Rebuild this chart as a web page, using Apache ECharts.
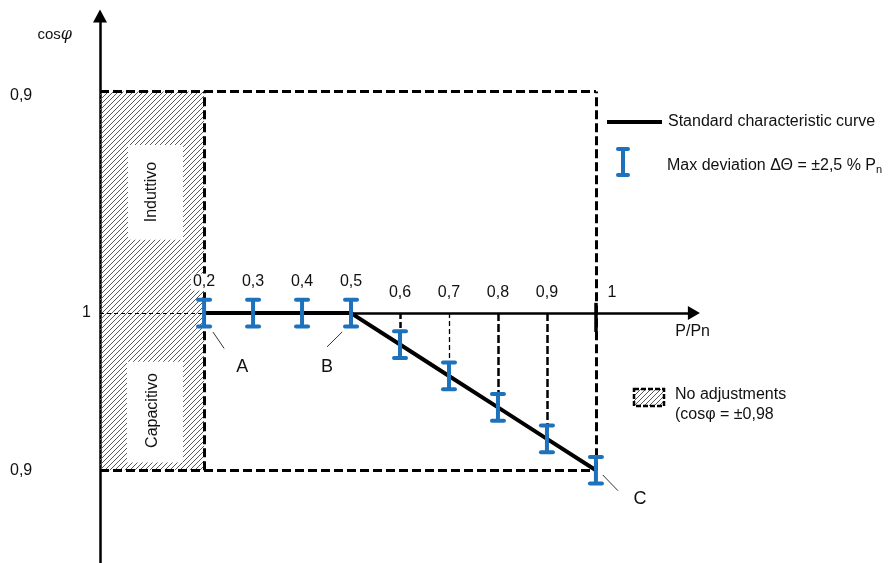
<!DOCTYPE html>
<html>
<head>
<meta charset="utf-8">
<script src="https://cdn.jsdelivr.net/npm/echarts@6/dist/echarts.min.js"></script>
<style>html,body{margin:0;padding:0;background:#fff;}#c{width:896px;height:563px;}</style>
</head>
<body>
<div id="c"></div>
<script>
// ---- data ----
const pValues = [0.2, 0.3, 0.4, 0.5, 0.6, 0.7, 0.8, 0.9, 1.0];          // P/Pn
const cosPhi  = [1, 1, 1, 1, 0.98, 0.96, 0.94, 0.92, 0.90];            // capacitive side
const xTickValues = [0.2, 0.3, 0.4, 0.5, 0.6, 0.7, 0.8, 0.9, 1.0];
const xTickLabels = ['0,2', '0,3', '0,4', '0,5', '0,6', '0,7', '0,8', '0,9', '1'];
const yTickValues = [14.1, 0, -10];        // drawing positions (inductive 0.9 / 1 / capacitive 0.9)
const yTickLabels = ['0,9', '1', '0,9'];
const errorHalf = 0.85;                    // half height of deviation bars (drawing units)
const noAdjLimit = 0.2;                    // P/Pn below which no adjustment
const inductiveTop = 14.1;
const capacitiveBottom = -10;

// ---- derived ----
const yVals = cosPhi.map(c => Math.round((c - 1) * 1000) / 10);   // percent from unity, capacitive negative
const curve = pValues.map((p, i) => [p, yVals[i]]);
const X_MIN = -0.0125, X_MAX = 1.2125, Y_MIN = -15.9, Y_MAX = 18.9;
const BLUE = '#1d72bb';
const FONT = '"Liberation Sans", Arial, sans-serif';
const TXT = '#111';

function hatch() {
  const s = 5, c = document.createElement('canvas');
  c.width = s; c.height = s;
  const g = c.getContext('2d');
  g.strokeStyle = '#5a5a5a'; g.lineWidth = 1;
  g.beginPath();
  g.moveTo(0, s); g.lineTo(s, 0);
  g.moveTo(-1, 1); g.lineTo(1, -1);
  g.moveTo(s - 1, s + 1); g.lineTo(s + 1, s - 1);
  g.stroke();
  return c;
}
const hatchFill = { image: hatch(), repeat: 'repeat' };

const dashed = { color: '#000', width: 3, type: [9, 4] };
const guideStyles = [
  { color: '#000', width: 2.5, type: [6, 3] },
  { color: '#000', width: 1.3, type: [5, 3] },
  { color: '#000', width: 2.5, type: [8, 3] },
  { color: '#000', width: 2.5, type: [8, 3] }
];

const frameLines = [
  [{ coord: [X_MIN, inductiveTop] }, { coord: [1, inductiveTop] }],
  [{ coord: [X_MIN, capacitiveBottom] }, { coord: [1, capacitiveBottom] }],
  [{ coord: [noAdjLimit, capacitiveBottom] }, { coord: [noAdjLimit, inductiveTop] }],
  [{ coord: [1, capacitiveBottom] }, { coord: [1, inductiveTop] }]
].map(d => { d[0].lineStyle = dashed; return d; });

const guideLines = curve.filter(p => p[0] > 0.55 && p[0] < 0.95).map((p, i) =>
  [{ coord: [p[0], 0], lineStyle: guideStyles[i] }, { coord: [p[0], p[1]] }]);

const annotations = [
  { name: 'A', at: [0.278, -3.45], from: [0.218, -1.2], to: [0.241, -2.25] },
  { name: 'B', at: [0.451, -3.45], from: [0.482, -1.2], to: [0.451, -2.15] },
  { name: 'C', at: [1.09, -11.8], from: [1.014, -10.3], to: [1.045, -11.3] }
];
const leaderLines = annotations.map(a =>
  [{ coord: a.from, lineStyle: { color: '#333', width: 1, type: 'solid' } }, { coord: a.to }]);

// x tick labels sit on the axis line (y = 0)
const xTickItems = xTickValues.map((v, i) => ({
  value: [v, 0],
  label: Object.assign({
    formatter: xTickLabels[i],
    offset: v <= 0.55 ? [0, -31] : (v >= 0.95 ? [16, -20] : [0, -20])
  }, Math.abs(v - noAdjLimit) < 1e-6 ? { backgroundColor: '#fff', padding: [1, 2, 0, 2] } : {})
}));

const chart = echarts.init(document.getElementById('c'), null, { renderer: 'canvas' });
chart.setOption({
  animation: false,
  backgroundColor: '#fff',
  textStyle: { fontFamily: FONT },
  grid: { left: 100, right: 196, top: 16, bottom: 0, containLabel: false },
  xAxis: {
    type: 'value', min: X_MIN, max: X_MAX,
    name: 'P/Pn', nameLocation: 'end', nameGap: 10,
    nameTextStyle: { color: TXT, fontSize: 16, fontFamily: FONT, align: 'right', verticalAlign: 'top', padding: [11, 0, 0, 0] },
    axisLine: { show: true, onZero: true, symbol: 'none', lineStyle: { color: 'rgba(0,0,0,0)', width: 0 } },
    axisTick: { show: false },
    splitLine: { show: false },
    axisLabel: { show: false }
  },
  yAxis: {
    type: 'value', min: Y_MIN, max: Y_MAX,
    name: '{c|cos}{p|φ}', nameLocation: 'end', nameGap: -19,
    nameTextStyle: {
      align: 'right', verticalAlign: 'middle', padding: [0, 28, 0, 0],
      rich: {
        c: { fontSize: 15, fontFamily: FONT, color: TXT },
        p: { fontSize: 16, fontFamily: 'DejaVu Serif', fontStyle: 'italic', color: TXT }
      }
    },
    axisLine: { show: true, onZero: false, symbol: ['none', 'triangle'], symbolSize: [14, 13], lineStyle: { color: '#000', width: 2.5 } },
    axisTick: { show: false },
    splitLine: { show: false },
    axisLabel: {
      customValues: yTickValues, align: 'left', margin: 90,
      color: TXT, fontSize: 16, fontFamily: FONT,
      formatter: v => {
        const i = yTickValues.findIndex(t => Math.abs(t - v) < 1e-6);
        if (i < 0) return '';
        if (v === 0) return '{one|' + yTickLabels[i] + '}';
        if (v > 0) return '{top|' + yTickLabels[i] + '}';
        return yTickLabels[i];
      },
      rich: {
        one: { fontSize: 16, fontFamily: FONT, color: TXT, padding: [0, 0, 0, 72] },
        top: { fontSize: 16, fontFamily: FONT, color: TXT, padding: [8, 0, 0, 0] }
      }
    }
  },
  series: [
    {
      name: 'areas', type: 'line', data: [], z: 1, silent: true,
      markArea: {
        silent: true,
        data: [
          [{ coord: [X_MIN, capacitiveBottom], itemStyle: { color: hatchFill } }, { coord: [noAdjLimit, inductiveTop] }],
          [{ coord: [0.0447, 10.7], itemStyle: { color: '#fff' } }, { coord: [0.157, 4.66] }],
          [{ coord: [0.0427, -3.1], itemStyle: { color: '#fff' } }, { coord: [0.157, -9.5] }]
        ]
      }
    },
    {
      name: 'lines', type: 'line', data: [], z: 3, silent: true,
      markLine: {
        silent: true, symbol: 'none', animation: false,
        label: { show: false },
        lineStyle: { color: '#000', width: 1, type: 'solid' },
        emphasis: { disabled: true },
        data: [
          [{ coord: [X_MIN, 0], lineStyle: { color: '#000', width: 1, type: [4, 3] } }, { coord: [noAdjLimit, 0] }],
          [{ coord: [noAdjLimit, 0], lineStyle: { color: '#000', width: 2.5, type: 'solid' }, symbol: 'none' },
           { coord: [1.2, 0], symbol: 'triangle', symbolSize: [14, 12] }],
          [{ coord: [1, 0.65], lineStyle: { color: '#000', width: 3.5, type: 'solid' } }, { coord: [1, -1.2] }]
        ].concat(frameLines, guideLines, leaderLines)
      }
    },
    {
      name: 'Standard characteristic curve', type: 'line', data: curve, z: 4,
      symbol: 'none', lineStyle: { color: '#000', width: 4 }, silent: true
    },
    {
      name: 'Max deviation', type: 'custom', data: curve, z: 5, silent: true,
      renderItem: (params, api) => {
        const x = api.value(0), y = api.value(1);
        const t = api.coord([x, y + errorHalf]), b = api.coord([x, y - errorHalf]);
        const cw = 6, st = { stroke: BLUE, lineWidth: 4, lineCap: 'round' };
        return {
          type: 'group', children: [
            { type: 'line', shape: { x1: t[0], y1: t[1], x2: b[0], y2: b[1] }, style: { stroke: BLUE, lineWidth: 4 } },
            { type: 'line', shape: { x1: t[0] - cw, y1: t[1], x2: t[0] + cw, y2: t[1] }, style: st },
            { type: 'line', shape: { x1: b[0] - cw, y1: b[1], x2: b[0] + cw, y2: b[1] }, style: st }
          ]
        };
      }
    },
    {
      name: 'texts', type: 'scatter', z: 6, silent: true, symbolSize: 0,
      itemStyle: { opacity: 1 },
      data: [
        { value: [0.0937, 7.7], label: { formatter: 'Induttivo', rotate: 90, fontSize: 16 } },
        { value: [0.0957, -6.2], label: { formatter: 'Capacitivo', rotate: 90, fontSize: 16 } }
      ].concat(annotations.map(a => ({ value: a.at, label: { formatter: a.name, fontSize: 18 } }))),
      label: { show: true, position: 'inside', color: TXT, opacity: 1, fontFamily: FONT }
    },
    {
      name: 'xTicks', type: 'scatter', z: 6, silent: true, symbolSize: 0,
      itemStyle: { opacity: 1 },
      data: xTickItems,
      label: { show: true, position: 'inside', color: TXT, fontSize: 16, fontFamily: FONT }
    }
  ],
  graphic: [
    { type: 'line', shape: { x1: 607, y1: 122, x2: 662, y2: 122 }, style: { stroke: '#000', lineWidth: 4 } },
    { type: 'text', x: 668, y: 122, style: { text: 'Standard characteristic curve', font: '16px ' + FONT, fill: TXT, verticalAlign: 'middle' } },
    { type: 'line', shape: { x1: 623, y1: 149, x2: 623, y2: 175 }, style: { stroke: BLUE, lineWidth: 4 } },
    { type: 'line', shape: { x1: 618, y1: 149, x2: 628, y2: 149 }, style: { stroke: BLUE, lineWidth: 4, lineCap: 'round' } },
    { type: 'line', shape: { x1: 618, y1: 175, x2: 628, y2: 175 }, style: { stroke: BLUE, lineWidth: 4, lineCap: 'round' } },
    { type: 'text', x: 667, y: 166, style: {
        text: '{a|Max deviation ΔΘ = ±2,5 % P}{s|n}', verticalAlign: 'middle',
        rich: { a: { font: '16px ' + FONT, fill: TXT }, s: { font: '11px ' + FONT, fill: TXT, padding: [7, 0, 0, 0] } } } },
    { type: 'rect', shape: { x: 634, y: 389, width: 30, height: 17 }, style: { fill: hatchFill, stroke: '#000', lineWidth: 2.5, lineDash: [5, 2] } },
    { type: 'text', x: 675, y: 395, style: { text: 'No adjustments', font: '16px ' + FONT, fill: TXT, verticalAlign: 'middle' } },
    { type: 'text', x: 675, y: 415, style: { text: '(cosφ = ±0,98', font: '16px ' + FONT, fill: TXT, verticalAlign: 'middle' } }
  ]
});
</script>
</body>
</html>
